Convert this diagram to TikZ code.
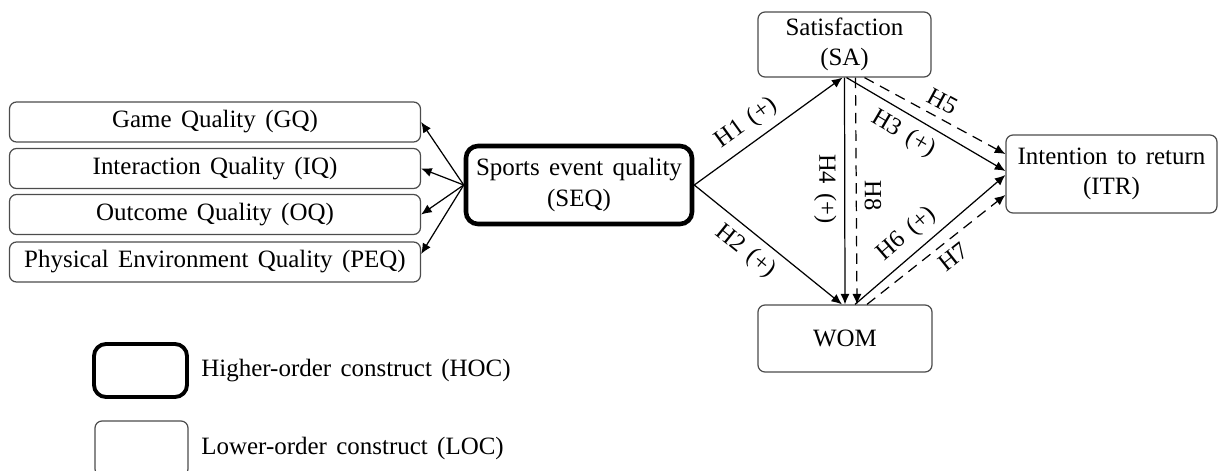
\documentclass[tikz,border=0pt]{standalone}
\usepackage{fontspec}
\setmainfont{Liberation Serif}[WordSpace=1.5]
\usetikzlibrary{positioning, arrows.meta}

\begin{document}
\begin{tikzpicture}[
			% GLOBAL CFG
			font=\fontsize{7.1}{8.6}\selectfont,
			>={Latex[length=3pt,width=2.6pt]},
			% Styles
			loc/.style={% For lower-order constructs
				rectangle,
				rounded corners=0.07cm,
				draw=black!70,
				line width=0.35pt,
				align=center,
				inner sep=0pt,
			},
			hoc/.style={% For the higher-order construct
				rectangle,
				rounded corners=0.12cm,
				draw=black,
				line width=1.3pt,
				align=center,
				inner sep=0pt,
			},
			dimbox/.style={% For the four dimensions on the left
				loc,
				minimum width=4.11cm,
				minimum height=0.40cm,
			},
			link/.style={% Solid paths
				->,
				line width=0.35pt,
			},
			dlink/.style={% Dashed paths
				->,
				line width=0.35pt,
				dash pattern=on 3pt off 2pt,
			},
			hyp/.style={% Labels of the hypotheses
				font=\fontsize{7}{7}\selectfont,
				inner sep=2.2pt,
				sloped,
			},
			]
			\useasboundingbox (0,0) rectangle (12.18,4.70);
			
			% Draw the dimensions (lower-order constructs)
			\node[dimbox] (gq) at (2.15,3.48) {Game Quality (GQ)};
			\node[dimbox] (iq) at (2.15,3.015) {Interaction Quality (IQ)};
			\node[dimbox] (oq) at (2.15,2.555) {Outcome Quality (OQ)};
			\node[dimbox] (peq) at (2.15,2.08) {Physical Environment Quality (PEQ)};
			
			% Draw the higher-order construct
			\node[hoc, minimum width=2.26cm, minimum height=0.78cm] (seq) at (5.79,2.85) {Sports event quality\\(SEQ)};
			
			% Draw the outcomes
			\node[loc, minimum width=1.73cm, minimum height=0.65cm] (sa) at (8.445,4.255) {Satisfaction\\(SA)};
			\node[loc, minimum width=1.74cm, minimum height=0.67cm] (wom) at (8.45,1.315) {WOM};
			\node[loc, minimum width=2.11cm, minimum height=0.78cm] (itr) at (11.115,2.96) {Intention to return\\(ITR)};
			
			% Draw the legend
			\node[hoc, line width=1.1pt, minimum width=0.93cm, minimum height=0.53cm] (hockey) at (1.405,0.995) {};
			\node[loc, minimum width=0.93cm, minimum height=0.55cm] (lockey) at (1.415,0.215) {};
			\node[anchor=west] (hoctext) at (1.89,0.99) {Higher-order construct (HOC)};
			\node[anchor=west] (loctext) at (1.89,0.22) {Lower-order construct (LOC)};
			
			% Drawing arrows to the dimensions
			\draw [link] (seq.west) -- (gq.east);
			\draw [link] (seq.west) -- (iq.east);
			\draw [link] (seq.west) -- (oq.east);
			\draw [link] (seq.west) -- ([yshift=0.08cm]peq.east);
			
			% Drawing the hypotheses
			\draw [link] (seq.east) -- node[hyp, pos=0.43, above] {H1 (+)} ([xshift=-0.02cm]sa.south);
			\draw [link] (seq.east) -- node[hyp, pos=0.43, below] {H2 (+)} ([xshift=-0.03cm]wom.north);
			\draw [link] (sa.south) -- node[hyp, pos=0.49, below] {H4 (+)} (wom.north);
			\draw [dlink] ([xshift=0.11cm]sa.south) -- node[hyp, pos=0.52, above] {H8} ([xshift=0.12cm]wom.north);
			\draw [link] ([xshift=0.02cm]sa.south) -- node[hyp, pos=0.42, below] {H3 (+)} ([yshift=0.03cm]itr.west);
			\draw [dlink] ([xshift=0.2cm]sa.south) -- node[hyp, pos=0.5, above] {H5} ([yshift=0.2cm]itr.west);
			\draw [link] ([xshift=0.1cm]wom.north) -- node[hyp, pos=0.43, above] {H6 (+)} ([yshift=-0.01cm]itr.west);
			\draw [dlink] ([xshift=0.22cm]wom.north) -- node[hyp, pos=0.55, below] {H7} ([yshift=-0.21cm]itr.west);
			
		\end{tikzpicture}
\end{document}
